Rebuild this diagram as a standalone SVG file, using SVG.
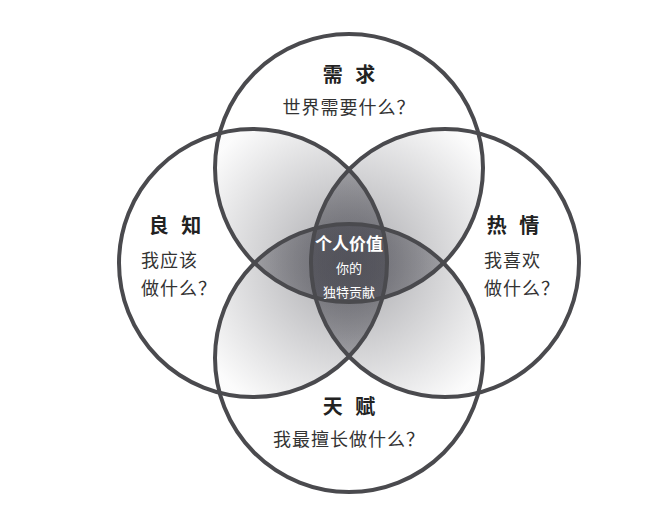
<svg xmlns="http://www.w3.org/2000/svg" width="672" height="519" viewBox="0 0 672 519">
<style>
.c{fill:none;stroke:#4a4a4e;stroke-width:4}
.t{font-family:"Noto Sans CJK SC",sans-serif;font-weight:bold;font-size:20px;fill:#222;letter-spacing:4px}
.s{font-family:"Noto Sans CJK SC",sans-serif;font-size:18px;fill:#333;letter-spacing:1px}
.w{font-family:"Noto Sans CJK SC",sans-serif;fill:#fff}
</style>
<defs>
<radialGradient id="g" gradientUnits="userSpaceOnUse" cx="349" cy="263" r="170">
<stop offset="0" stop-color="#505058" stop-opacity="0.5"/>
<stop offset="1" stop-color="#505058" stop-opacity="0.02"/>
</radialGradient>
<clipPath id="cT"><circle cx="349" cy="168" r="134"/></clipPath>
<clipPath id="cB"><circle cx="349" cy="358" r="134"/></clipPath>
<clipPath id="cL"><circle cx="253" cy="263" r="134"/></clipPath>
<clipPath id="cR"><circle cx="445" cy="263" r="134"/></clipPath>
</defs>
<rect width="672" height="519" fill="#fff"/>
<g id="shading" fill="url(#g)">
<circle cx="253" cy="263" r="134" clip-path="url(#cT)"/>
<circle cx="445" cy="263" r="134" clip-path="url(#cT)"/>
<circle cx="253" cy="263" r="134" clip-path="url(#cB)"/>
<circle cx="445" cy="263" r="134" clip-path="url(#cB)"/>
<circle cx="349" cy="358" r="134" clip-path="url(#cT)"/>
<circle cx="445" cy="263" r="134" clip-path="url(#cL)"/>
</g>
<g id="top"><circle class="c" cx="349" cy="168" r="134"/>
<text class="t" x="351" y="82" text-anchor="middle">需 求</text>
<text class="s" x="349" y="114" text-anchor="middle">世界需要什么？</text></g>
<g id="left"><circle class="c" cx="253" cy="263" r="134"/>
<text class="t" x="177" y="233" text-anchor="middle">良 知</text>
<text class="s" x="141" y="267">我应该</text>
<text class="s" x="141" y="295">做什么？</text></g>
<g id="right"><circle class="c" cx="445" cy="263" r="134"/>
<text class="t" x="515" y="233" text-anchor="middle">热 情</text>
<text class="s" x="484" y="267">我喜欢</text>
<text class="s" x="484" y="295">做什么？</text></g>
<g id="bottom"><circle class="c" cx="349" cy="358" r="134"/>
<text class="t" x="351" y="414" text-anchor="middle">天 赋</text>
<text class="s" x="349" y="446" text-anchor="middle">我最擅长做什么？</text></g>
<g id="center">
<text class="w" x="349" y="250" text-anchor="middle" font-size="17" font-weight="bold">个人价值</text>
<text class="w" x="349" y="273" text-anchor="middle" font-size="13">你的</text>
<text class="w" x="349" y="297" text-anchor="middle" font-size="13">独特贡献</text></g>
</svg>
